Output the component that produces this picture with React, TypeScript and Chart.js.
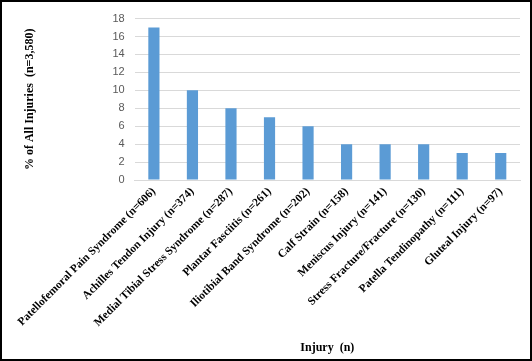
import React, { useEffect, useRef } from "react";
import { Chart, registerables } from "chart.js";

Chart.register(...registerables);

const categories = [
  "Patellofemoral Pain Syndrome (n=606)",
  "Achilles Tendon Injury (n=374)",
  "Medial Tibial Stress Syndrome (n=287)",
  "Plantar Fasciitis (n=261)",
  "Iliotibial Band Syndrome (n=202)",
  "Calf Strain (n=158)",
  "Meniscus Injury (n=141)",
  "Stress Fracture/Fracture (n=130)",
  "Patella Tendinopathy (n=111)",
  "Gluteal Injury (n=97)",
];
const percentValues = [17, 10, 8, 7, 6, 4, 4, 4, 3, 3];
const yTitle = "% of All Injuries  (n=3,580)";
const xTitle = "Injury  (n)";

export default function App() {
  const ref = useRef<HTMLCanvasElement>(null);
  useEffect(() => {
    document.body.style.margin = "0";
    const chart = new Chart(ref.current!, {
      type: "bar",
      data: {
        labels: categories,
        datasets: [
          {
            data: percentValues,
            backgroundColor: "#5B9BD5",
            borderWidth: 0,
            categoryPercentage: 1,
            barPercentage: 0.29,
          },
        ],
      },
      options: {
        animation: false,
        responsive: true,
        maintainAspectRatio: false,
        layout: { padding: { top: 10, right: 10, left: 0, bottom: 4 } },
        plugins: { legend: { display: false }, tooltip: { enabled: false } },
        scales: {
          x: {
            afterFit: (scale: any) => {
              scale.height = 175;
            },
            grid: { display: false, drawTicks: false },
            border: { display: true, color: "#d9d9d9" },
            ticks: {
              minRotation: 45,
              maxRotation: 45,
              autoSkip: false,
              padding: 5,
              color: "#000",
              font: { family: "Liberation Serif", size: 11.4, weight: "bold" },
            },
            title: {
              display: true,
              text: xTitle,
              color: "#000",
              font: { family: "Liberation Serif", size: 12, weight: "bold" },
              padding: { top: 11, bottom: 0 },
            },
          },
          y: {
            min: 0,
            max: 18,
            grid: { color: "#d9d9d9", drawTicks: false },
            border: { display: false },
            ticks: {
              stepSize: 2,
              padding: 10,
              color: "#595959",
              font: { family: "Liberation Sans", size: 11 },
            },
            title: {
              display: true,
              text: yTitle,
              color: "#000",
              font: { family: "Liberation Serif", size: 12, weight: "bold" },
              padding: { top: 21, bottom: 65 },
            },
          },
        },
      },
    });
    return () => chart.destroy();
  }, []);
  return (
    <div
      style={{
        width: 532,
        height: 361,
        border: "2px solid #000",
        boxSizing: "border-box",
        background: "#fff",
      }}
    >
      <div style={{ position: "relative", width: 528, height: 357 }}>
        <canvas ref={ref} />
      </div>
    </div>
  );
}
